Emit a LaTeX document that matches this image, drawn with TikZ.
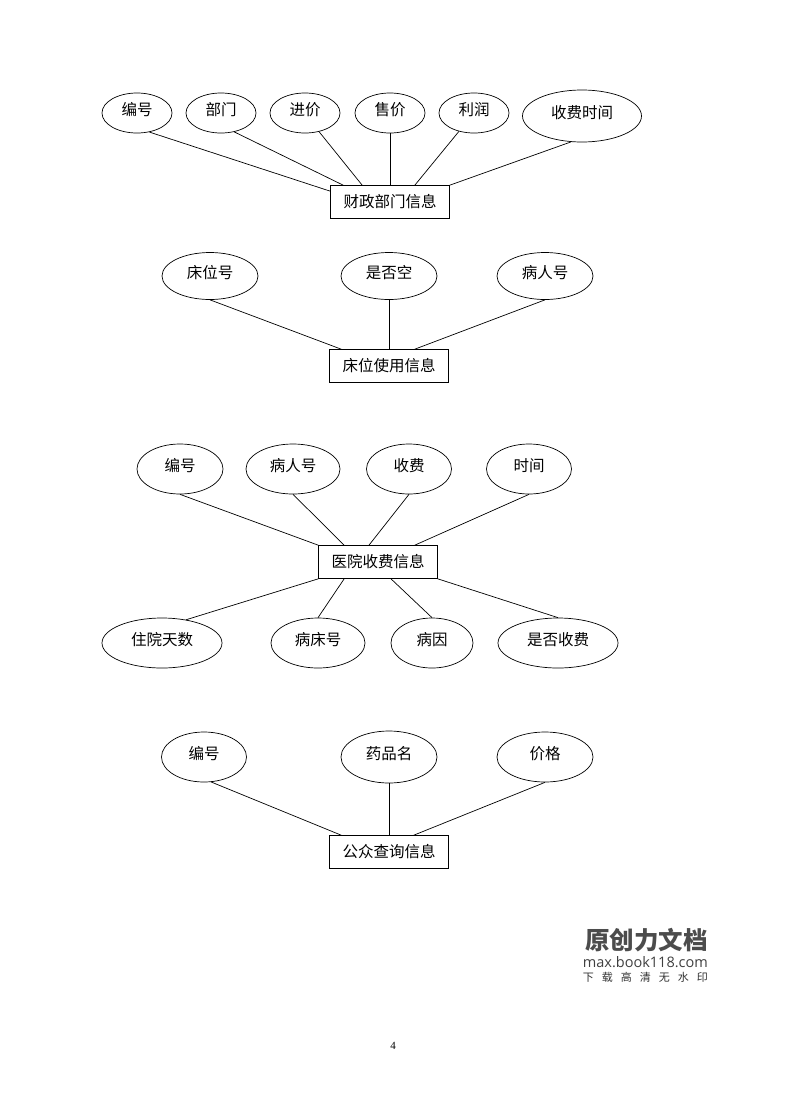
\documentclass[tikz,border=0pt]{standalone}
\usepackage{fontspec}
\setmainfont{Liberation Serif}
\newfontfamily\cjk{Noto Sans CJK SC}
\newfontfamily\wmlatin{Open Sans}
\usetikzlibrary{shapes.geometric}

\begin{document}
\begin{tikzpicture}[x=1pt,y=-1pt]
\tikzstyle{attr}=[ellipse, draw=black, line width=0.7pt, inner sep=0pt, minimum width=70pt, minimum height=40pt, font=\cjk\fontsize{15.5}{18}\selectfont, text height=11pt, text depth=6pt]
\tikzstyle{entity}=[rectangle, draw=black, line width=0.7pt, inner sep=0pt, minimum width=119pt, minimum height=33pt, font=\cjk\fontsize{15.5}{18}\selectfont]
\tikzstyle{link}=[line width=0.7pt]
\fill[white] (0,0) rectangle (792,1120);
\useasboundingbox (0,0) rectangle (792,1120);
% 1. Finance department
%%%%%%%%%%%%%%%%%%%%%%%
\node[entity] (finance) at (390,202) {财政部门信息};
\node[attr] (fid) at (137,113) {编号};
\node[attr] (fdept) at (221,113) {部门};
\node[attr] (fbuy) at (305,113) {进价};
\node[attr] (fsell) at (390,113) {售价};
\node[attr] (fprofit) at (474,113) {利润};
\node[attr, minimum width=119pt, minimum height=52pt] (ftime) at (582,116) {收费时间};
\path (fid.-57)    edge [link] ([yshift=-6pt]finance.north west)
      (fdept.-55)  edge [link] ([xshift=13pt]finance.north west)
      (fbuy.-53)   edge [link] ([xshift=32pt]finance.north west)
      (fsell)      edge [link] (finance)
      (fprofit)    edge [link] ([xshift=-35pt]finance.north east)
      (ftime.247)  edge [link] (finance.north east);

% 2. Bed usage
%%%%%%%%%%%%%%
\node[entity] (bed) at (389,366) {床位使用信息};
\node[attr, minimum width=96pt, minimum height=47pt] (bno) at (210,276) {床位号};
\node[attr, minimum width=96pt, minimum height=47pt] (bfree) at (389,276) {是否空};
\node[attr, minimum width=96pt, minimum height=47pt] (bpat) at (545,276) {病人号};
\path (bno.south)   edge [link] ([xshift=12pt]bed.north west)
      (bfree)       edge [link] (bed)
      (bpat.south)  edge [link] ([xshift=-34pt]bed.north east);

% 3. Hospital charges
%%%%%%%%%%%%%%%%%%%%%
\node[entity] (charge) at (378,562) {医院收费信息};
\node[attr, minimum width=86pt, minimum height=50pt] (cid) at (180,469) {编号};
\node[attr, minimum width=94pt, minimum height=50pt] (cpat) at (293,469) {病人号};
\node[attr, minimum width=85pt, minimum height=50pt] (cfee) at (409,469) {收费};
\node[attr, minimum width=85pt, minimum height=50pt] (ctime) at (529,469) {时间};
\node[attr, minimum width=120pt, minimum height=50pt] (cdays) at (162,643) {住院天数};
\node[attr, minimum width=94pt, minimum height=50pt] (cbed) at (318,643) {病床号};
\node[attr, minimum width=82pt, minimum height=50pt] (ccause) at (432,643) {病因};
\node[attr, minimum width=120pt, minimum height=50pt] (cpaid) at (558,643) {是否收费};
\path (cid.south)    edge [link] (charge.north west)
      (cpat.south)   edge [link] ([xshift=26pt]charge.north west)
      (cfee.south)   edge [link] ([xshift=-9pt]charge.north)
      (ctime.south)  edge [link] ([xshift=-23pt]charge.north east)
      (charge.south west)           edge [link] (cdays.44)
      ([xshift=26pt]charge.south west) edge [link] (cbed.north)
      ([xshift=13pt]charge.south)   edge [link] (ccause.north)
      (charge.south east)           edge [link] (cpaid.north);

% 4. Public query
%%%%%%%%%%%%%%%%%
\node[entity] (query) at (389,852) {公众查询信息};
\node[attr, minimum width=85pt, minimum height=50pt] (qid) at (204,757) {编号};
\node[attr, minimum width=96pt, minimum height=52pt] (qname) at (389,757) {药品名};
\node[attr, minimum width=96pt, minimum height=50pt] (qprice) at (545,757) {价格};
\path (qid.-74)      edge [link] ([xshift=12pt]query.north west)
      (qname)        edge [link] (query)
      (qprice.south) edge [link] ([xshift=-35pt]query.north east);

% 5. Watermark and page number
%%%%%%%%%%%%%%%%%%%%%%%%%%%%%%
\node[text=black!70, font=\cjk\bfseries\fontsize{24.5}{28}\selectfont, anchor=east, inner sep=0pt] (wmtitle) at (708,940) {原创力文档};
\node[text=black!75, font=\wmlatin\fontsize{14.5}{16}\selectfont, anchor=east, inner sep=0pt] (wmurl) at (708,962) {max.book118.com};
\node[text=black!80, font=\cjk\fontsize{11}{12}\selectfont, anchor=east, inner sep=0pt] (wmnote) at (708,977) {下\hspace{8pt}载\hspace{8pt}高\hspace{8pt}清\hspace{8pt}无\hspace{8pt}水\hspace{8pt}印};
\node[font=\fontsize{11}{13}\selectfont, inner sep=0pt] (pageno) at (393,1046) {4};
\end{tikzpicture}
\end{document}
